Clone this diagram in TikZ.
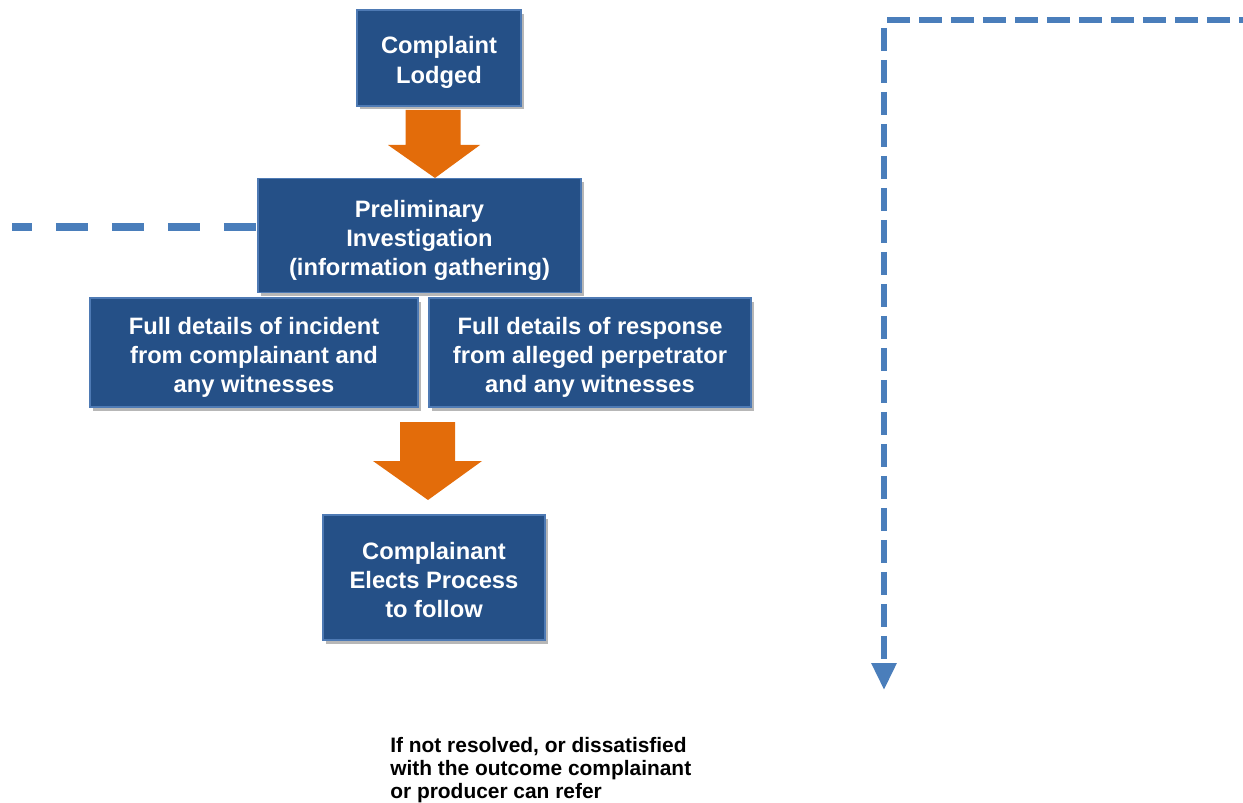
\documentclass[tikz,border=0pt]{standalone}
\usepackage{fontspec}
\setmainfont{Liberation Sans}
\usepackage{tikz}
\usetikzlibrary{calc,shadows,arrows.meta}
\definecolor{boxblue}{RGB}{37,80,135}
\definecolor{boxedge}{RGB}{78,122,180}
\definecolor{arroworange}{RGB}{227,108,10}
\definecolor{dashblue}{RGB}{74,126,187}
% box text, set a little below the middle of its box
\newcommand{\boxtext}[1]{\raisebox{-2.8pt}[\height][\depth]{\begin{tabular}{@{}c@{}}#1\end{tabular}}}
\tikzset{
  procbox/.style={rectangle, fill=boxblue, draw=boxedge, line width=1pt,
    text=white, inner sep=0pt,
    font=\bfseries\fontsize{13.5pt}{16.5pt}\selectfont,
    drop shadow={shadow xshift=1.5pt, shadow yshift=-2pt, opacity=0.4, fill=black!70}},
  blockarrow/.style={fill=arroworange},
  dashline/.style={draw=dashblue, line width=0.12cm, dash pattern=on 0.46cm off 0.18cm}
}

\begin{document}
\begin{tikzpicture}[x=0.02cm, y=-0.02cm]
    \useasboundingbox (0,0) rectangle (1243,803);
    % boxes
    \node[procbox, minimum width=3.28cm, minimum height=1.92cm] (lodged) at (439,58)
      {\boxtext{Complaint\\[0.8pt]Lodged}};
    \node[procbox, minimum width=6.46cm, minimum height=2.28cm] (prelim) at (419.5,235.5)
      {\boxtext{Preliminary\\Investigation\\(information gathering)}};
    \node[procbox, minimum width=6.56cm, minimum height=2.18cm] (incident) at (254,352.5)
      {\boxtext{Full details of incident\\from complainant and\\any witnesses}};
    \node[procbox, minimum width=6.44cm, minimum height=2.18cm] (response) at (590,352.5)
      {\boxtext{Full details of response\\from alleged perpetrator\\and any witnesses}};
    \node[procbox, minimum width=4.44cm, minimum height=2.5cm] (elects) at (434,577.5)
      {\boxtext{Complainant\\Elects Process\\to follow}};
    % orange arrows
    \coordinate (a1) at (433,110);
    \fill[blockarrow] (a1) -- ++(27.5,0) -- ++(0,35) -- ++(19.5,0) -- (435,178)
      -- (388,145) -- ++(17.5,0) -- ++(0,-35) -- cycle;
    \coordinate (a2) at (427.5,422);
    \fill[blockarrow] (a2) -- ++(27.5,0) -- ++(0,39) -- ++(27,0) -- (428,500)
      -- (373,461) -- ++(27,0) -- ++(0,-39) -- cycle;
    % dashed lines
    \coordinate (leftend) at (12,227);
    \draw[dashblue, line width=0.16cm, dash pattern=on 0.64cm off 0.48cm, dash phase=0.24cm]
      (leftend) -- (leftend -| prelim.west);
    \coordinate (corner) at (884,20);
    \coordinate (rightend) at (1243,20);
    \coordinate (downend) at (884,690);
    \draw[dashline] (corner) ++(3,0) -- (rightend);
    \draw[dashline, -{Triangle[width=0.48cm,length=0.54cm]}] (corner) ++(0,8) -- (downend);
    % note
    \node[anchor=north west, inner sep=0pt, align=left,
      font=\bfseries\fontsize{11.9pt}{13pt}\selectfont] (note) at (390,737)
      {If not resolved, or dissatisfied\\with the outcome complainant\\or producer can refer};
  \end{tikzpicture}
\end{document}
